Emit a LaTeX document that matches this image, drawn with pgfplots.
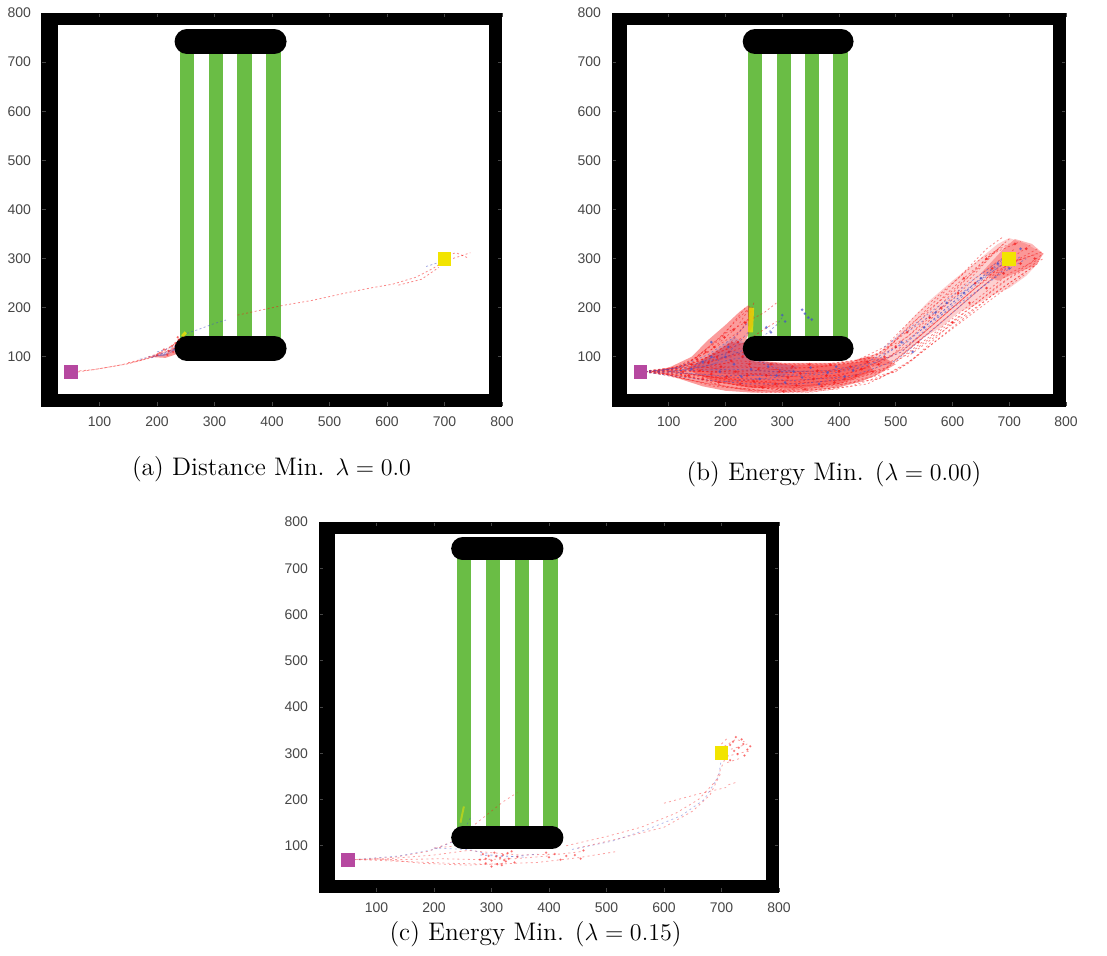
\documentclass[border=0pt]{standalone}
\usepackage{fontspec}
\setsansfont{Liberation Sans}
\usepackage{pgfplots}
\pgfplotsset{compat=1.18}

\definecolor{barGreen}{RGB}{106,189,69}
\definecolor{startMag}{RGB}{182,72,160}
\definecolor{goalYel}{RGB}{242,228,0}
\definecolor{trRed}{RGB}{245,20,20}
\definecolor{trBlue}{RGB}{70,80,200}
\definecolor{tickGray}{RGB}{70,70,70}

\pgfplotsset{
  arena/.style={
    scale only axis,
    xmin=0, xmax=800, ymin=0, ymax=800,
    xtick={100,200,...,800}, ytick={100,200,...,800},
    tick align=inside,
    major tick length=2pt,
    tick style={tickGray, line width=0.4pt},
    axis line style={black, line width=0.5pt},
    axis on top=true,
    ticklabel style={font=\sffamily\fontsize{7}{8}\selectfont, text=tickGray},
    /pgf/number format/assume math mode=true,
    xticklabel style={yshift=-2pt},
    yticklabel style={xshift=-2pt},
  },
  wall/.style={fill=black, draw=none, forget plot},
  bar/.style={fill=barGreen, draw=none, forget plot},
  rtraj/.style={trRed, line width=0.4pt, dash pattern=on 1pt off 1.2pt, opacity=0.5, forget plot},
  btraj/.style={trBlue, line width=0.4pt, dash pattern=on 1pt off 1.2pt, opacity=0.5, forget plot},
  rdots/.style={only marks, mark=*, mark size=0.5pt, trRed, opacity=0.55, forget plot},
  bdots/.style={only marks, mark=*, mark size=0.5pt, trBlue, opacity=0.55, forget plot},
}
\tikzset{capt/.style={anchor=base, font=\fontsize{12.7}{15}\selectfont}}

% walls and doorway bars of the arena
\newcommand{\drawArena}{%
  \addplot[wall] coordinates {(0,0) (800,0) (800,25) (0,25)};
  \addplot[wall] coordinates {(0,775) (800,775) (800,800) (0,800)};
  \addplot[wall] coordinates {(0,0) (27,0) (27,800) (0,800)};
  \addplot[wall] coordinates {(777,0) (800,0) (800,800) (777,800)};
  \addplot[bar] coordinates {(240,117) (265,117) (265,742) (240,742)};
  \addplot[bar] coordinates {(290,117) (315,117) (315,742) (290,742)};
  \addplot[bar] coordinates {(340,117) (365,117) (365,742) (340,742)};
  \addplot[bar] coordinates {(390,117) (415,117) (415,742) (390,742)};
}
% the two rounded blocks: #1 thickness, #2 left and #3 right end of centre line
\newcommand{\drawBlocks}[3]{%
  \addplot[black, line width=#1, line cap=round, forget plot] coordinates {(#2,742) (#3,742)};
  \addplot[black, line width=#1, line cap=round, forget plot] coordinates {(#2,117) (#3,117)};
}
% start and goal squares
\newcommand{\drawStartGoal}{%
  \addplot[only marks, mark=square*, mark size=3.2pt, color=startMag, forget plot] coordinates {(50,70)};
  \addplot[only marks, mark=square*, mark size=3.2pt, color=goalYel, forget plot] coordinates {(700,300)};
}

\begin{document}
\begin{tikzpicture}
\useasboundingbox (0,0) rectangle (553.5pt,477.5pt);

% ---------------- (a) distance minimisation ----------------
\begin{axis}[arena, at={(21pt,274.5pt)}, anchor=south west, width=230pt, height=196.5pt,
  rdots/.append style={mark size=0.4pt, opacity=0.45}]
\drawArena
\addplot[fill=trRed, draw=none, opacity=0.45, forget plot] coordinates {(185,100) (215,106) (238,128) (246,146) (240,108) (215,98)};
\addplot[fill=trBlue, draw=none, opacity=0.45, forget plot] coordinates {(192,101) (222,108) (236,122) (230,112) (212,102)};
\addplot[rtraj] coordinates {(50,70) (90,74) (130,82) (170,92) (205,105) (232,118)};
\addplot[rtraj] coordinates {(55,68) (100,76) (150,86) (195,100) (225,116) (245,140)};
\addplot[rtraj] coordinates {(150,88) (190,100) (215,115) (238,132) (250,145)};
\addplot[rtraj] coordinates {(185,100) (210,110) (230,125) (244,138)};
\addplot[rtraj] coordinates {(340,185) (420,205) (470,215) (520,228) (570,240) (610,248) (650,262) (680,280) (700,295) (730,306) (745,312)};
\addplot[rtraj] coordinates {(620,246) (660,258) (690,282)};
\addplot[rtraj] coordinates {(700,305) (720,312) (740,302)};
\addplot[btraj] coordinates {(170,95) (200,104) (225,113) (240,122)};
\addplot[btraj] coordinates {(190,98) (215,108) (235,118)};
\addplot[btraj] coordinates {(200,110) (228,120) (245,130)};
\addplot[btraj] coordinates {(245,145) (270,155) (300,168) (320,175)};
\addplot[btraj] coordinates {(668,284) (690,292)};
\addplot[rdots] coordinates {(205,108) (212,115) (220,112) (226,122) (232,128) (238,135) (218,104) (228,110) (236,140) (200,104)};
\addplot[goalYel, line width=1.5pt, opacity=0.8, forget plot] coordinates {(244,142) (250,150)};
\drawBlocks{12.3pt}{252}{404}
\drawStartGoal
\end{axis}

% ---------------- (b) energy minimisation, lambda = 0 ----------------
\begin{axis}[arena, at={(306pt,274.5pt)}, anchor=south west, width=227pt, height=196.5pt]
\drawArena
% spread of the sampled trajectories
\addplot[fill=trRed, draw=none, opacity=0.42, forget plot] coordinates {(70,70) (100,78) (140,100) (170,135) (200,165) (225,192) (240,205) (250,195) (248,165) (238,140) (230,120) (235,100) (260,92) (300,88) (350,88) (400,88) (425,92) (450,100) (480,98) (500,85) (470,65) (440,50) (400,38) (350,30) (300,27) (250,27) (200,31) (160,40) (120,55) (90,65)};
\addplot[fill=trRed, draw=none, opacity=0.4, forget plot] coordinates {(130,75) (170,100) (210,130) (232,128) (250,90) (320,84) (400,84) (450,92) (460,70) (400,45) (320,35) (240,38) (180,50)};
\addplot[fill=trRed, draw=none, opacity=0.2, forget plot] coordinates {(430,95) (470,108) (500,140) (530,180) (560,215) (600,255) (640,292) (680,330) (700,342) (730,330) (760,310) (750,290) (730,265) (700,240) (670,225) (640,205) (610,190) (580,160) (550,140) (520,110) (490,85) (460,80)};
\addplot[fill=trRed, draw=none, opacity=0.3, forget plot] coordinates {(650,270) (690,320) (710,340) (740,330) (760,310) (745,285) (710,270) (680,255)};
\addplot[fill=trBlue, draw=none, opacity=0.18, forget plot] coordinates {(140,80) (180,110) (215,140) (232,130) (240,105) (270,90) (330,80) (300,60) (230,62) (170,68)};
\addplot[rtraj] coordinates {(50,70) (120,68) (200,55) (300,40) (400,45) (480,75) (560,150) (640,230) (700,290) (750,310)};
\addplot[rtraj] coordinates {(50,70) (120,72) (200,70) (300,60) (400,62) (470,85) (540,140) (620,220) (690,290) (740,330)};
\addplot[rtraj] coordinates {(50,70) (130,60) (210,45) (300,32) (380,35) (460,60) (540,120) (620,190) (700,260) (760,300)};
\addplot[rtraj] coordinates {(50,70) (120,75) (190,80) (260,78) (350,78) (440,90) (520,140) (600,230) (660,300) (700,340)};
\addplot[rtraj] coordinates {(50,70) (140,65) (220,50) (320,45) (420,55) (500,95) (580,170) (660,250) (720,300)};
\addplot[rtraj] coordinates {(50,70) (130,78) (210,88) (280,84) (380,84) (460,98) (530,160) (600,240) (670,310) (720,335)};
\addplot[rtraj] coordinates {(50,70) (140,58) (230,40) (330,30) (420,40) (500,70) (580,140) (660,210) (730,270)};
\addplot[rtraj] coordinates {(50,70) (150,62) (240,55) (330,50) (430,70) (510,110) (590,190) (670,270) (750,320)};
\addplot[rtraj] coordinates {(60,70) (150,50) (240,32) (350,28) (450,45) (520,85) (600,160) (680,235) (745,285)};
\addplot[rtraj] coordinates {(50,70) (140,72) (220,65) (310,68) (400,72) (490,100) (560,175) (640,260) (710,320)};
\addplot[rtraj] coordinates {(50,70) (110,78) (170,110) (220,160) (240,195)};
\addplot[rtraj] coordinates {(50,70) (120,80) (180,118) (225,152) (245,182)};
\addplot[rtraj] coordinates {(50,70) (110,75) (160,95) (200,122) (232,140)};
\addplot[rtraj] coordinates {(50,70) (120,76) (190,135) (235,200)};
\addplot[rtraj] coordinates {(50,70) (130,78) (180,100) (228,118)};
\addplot[rtraj] coordinates {(60,70) (140,85) (190,110) (232,128) (260,150) (290,172)};
\addplot[rtraj] coordinates {(140,92) (200,148) (238,172) (268,190) (290,210)};
\addplot[rtraj] coordinates {(50,70) (150,60) (250,42) (350,36) (420,50)};
\addplot[rtraj] coordinates {(50,70) (150,70) (250,72) (350,66) (450,78)};
\addplot[rtraj] coordinates {(80,68) (170,45) (260,28) (340,28) (400,35)};
\addplot[rtraj] coordinates {(70,70) (160,88) (210,100) (232,110)};
\addplot[rtraj] coordinates {(80,70) (170,80) (220,92) (300,86) (380,86) (440,95) (480,110) (540,180) (610,260) (660,320) (690,345)};
\addplot[rtraj] coordinates {(80,70) (180,40) (280,30) (380,40) (470,55) (530,95) (600,170) (680,245) (760,310)};
\addplot[rtraj] coordinates {(90,70) (170,100) (210,130) (235,165) (250,210)};
\addplot[rtraj] coordinates {(100,72) (180,58) (270,50) (360,55) (440,65) (490,80)};
\addplot[rtraj] coordinates {(470,100) (530,170) (590,225) (650,285) (690,330)};
\addplot[rtraj] coordinates {(500,90) (570,150) (640,215) (700,270) (755,300)};
\addplot[rtraj] coordinates {(60,70) (120,62) (180,50) (240,40) (300,35)};
\addplot[rtraj] coordinates {(70,70) (130,80) (180,95) (220,105) (240,100)};
\addplot[rtraj] coordinates {(90,72) (150,90) (200,115) (228,135)};
\addplot[rtraj] coordinates {(100,70) (170,60) (230,52) (280,48) (330,40) (380,46)};
\addplot[rtraj] coordinates {(110,72) (170,75) (230,82) (280,75) (330,70) (380,72) (430,82)};
\addplot[rtraj] coordinates {(120,65) (200,40) (260,32)};
\addplot[rtraj] coordinates {(130,75) (190,95) (225,110)};
\addplot[rtraj] coordinates {(150,100) (190,140) (220,175) (238,195)};
\addplot[rtraj] coordinates {(160,80) (220,70) (300,75) (370,80) (420,88) (470,95)};
\addplot[rtraj] coordinates {(200,60) (260,65) (320,60) (380,55) (440,60) (490,75)};
\addplot[rtraj] coordinates {(230,35) (300,45) (370,50) (440,55) (500,70)};
\addplot[rtraj] coordinates {(430,92) (480,120) (540,190) (600,250) (650,300) (700,330)};
\addplot[rtraj] coordinates {(460,85) (520,120) (580,180) (640,240) (700,290) (760,315)};
\addplot[rtraj] coordinates {(520,100) (580,150) (640,200) (700,250) (750,290)};
\addplot[rtraj] coordinates {(480,105) (530,150) (590,210) (640,270) (680,320)};
\addplot[btraj] coordinates {(50,70) (130,72) (210,75) (290,70) (380,72) (460,88) (540,150) (620,230) (690,300)};
\addplot[btraj] coordinates {(50,70) (130,66) (220,58) (320,52) (420,60) (500,92) (570,160) (650,240) (720,305)};
\addplot[btraj] coordinates {(50,70) (110,76) (170,105) (215,140) (240,170)};
\addplot[btraj] coordinates {(60,70) (140,80) (200,100) (235,115) (265,140) (290,165) (300,180)};
\addplot[btraj] coordinates {(50,70) (150,55) (240,45) (330,45) (410,55)};
\addplot[btraj] coordinates {(80,70) (160,90) (210,112) (232,105)};
\addplot[btraj] coordinates {(450,90) (520,130) (590,200) (660,270) (710,310)};
\addplot[btraj] coordinates {(100,70) (190,62) (280,62) (370,68) (450,82) (510,110) (580,185) (650,255) (700,300)};
\addplot[btraj] coordinates {(480,120) (560,190) (640,260) (700,310)};
\addplot[btraj] coordinates {(100,70) (160,80) (210,95) (240,100) (300,72) (350,70)};
\addplot[btraj] coordinates {(120,72) (180,85) (220,125) (240,150)};
\addplot[btraj] coordinates {(200,50) (260,55) (320,62) (380,65) (440,78)};
\addplot[btraj] coordinates {(520,150) (580,200) (640,250) (690,290)};
\addplot[btraj] coordinates {(560,170) (620,215) (680,265) (730,300)};
\addplot[rdots] coordinates {(125,70) (135,62) (140,85) (150,95) (155,72) (160,55) (165,110) (170,88) (175,65) (180,120) (185,100) (188,48) (192,80) (198,140) (202,60) (206,110) (210,92) (214,155) (218,70) (222,130) (226,45) (230,100) (234,170) (238,62) (242,85)
  (250,50) (258,75) (265,38) (272,62) (280,85) (288,45) (295,70) (302,30) (310,58) (318,80) (325,42) (332,66) (340,34) (348,85) (355,55) (362,72) (370,40) (378,62) (385,84) (392,48) (400,70) (410,55) (420,80) (430,62) (440,75) (450,90) (460,70) (470,85)
  (480,100) (500,120) (520,150) (540,130) (560,180) (580,200) (600,170) (610,230) (630,210) (640,250) (660,240) (670,280) (690,270) (700,310) (720,290) (730,320) (745,300) (710,330) (660,300) (620,260)};
\addplot[bdots] coordinates {(335,196) (340,188) (346,180) (352,176) (300,185) (305,172) (272,160) (280,150)
  (140,75) (160,90) (175,100) (190,70) (205,120) (215,85) (228,60) (245,75) (260,55) (275,80) (290,62) (305,48) (320,70) (335,58) (350,78) (365,45) (380,68) (395,80) (410,60) (425,72) (175,130) (200,100)
  (510,130) (550,160) (590,210) (620,230) (650,260) (680,290) (700,280) (720,320) (570,190) (530,110)};
\addplot[goalYel, line width=2.5pt, opacity=0.75, forget plot] coordinates {(244,150) (246,200)};
\drawBlocks{12.3pt}{252}{404}
\drawStartGoal
\end{axis}

% ---------------- (c) energy minimisation, lambda = 0.15 ----------------
\begin{axis}[arena, at={(159.5pt,31.5pt)}, anchor=south west, width=230pt, height=185pt,
  rtraj/.append style={opacity=0.4, dash pattern=on 1pt off 1.6pt},
  btraj/.append style={opacity=0.4, dash pattern=on 1pt off 1.6pt},
  rdots/.append style={mark size=0.4pt, opacity=0.4}]
\drawArena
\addplot[rtraj] coordinates {(55,70) (120,72) (200,80) (260,90) (300,85) (350,80) (420,82) (460,88)};
\addplot[rtraj] coordinates {(60,70) (130,75) (190,88) (230,108) (260,135) (290,165) (320,195) (345,215)};
\addplot[rtraj] coordinates {(70,70) (150,66) (230,62) (300,60) (380,64) (450,74) (520,88)};
\addplot[rtraj] coordinates {(60,70) (140,70) (210,72) (280,70) (340,72) (400,78)};
\addplot[rtraj] coordinates {(100,72) (180,62) (260,58) (320,62)};
\addplot[rtraj] coordinates {(430,100) (500,120) (560,140) (620,170) (660,200) (690,240) (700,270) (710,300)};
\addplot[rtraj] coordinates {(450,95) (520,115) (600,140) (650,175) (680,210) (700,260)};
\addplot[rtraj] coordinates {(600,192) (660,212) (708,226)};
\addplot[rtraj] coordinates {(712,232) (728,238)};
\addplot[rtraj] coordinates {(240,110) (260,125) (280,140)};
\addplot[rtraj] coordinates {(200,95) (240,100) (270,95)};
\addplot[rtraj] coordinates {(690,300) (720,310) (745,320)};
\addplot[rtraj] coordinates {(700,290) (730,300) (750,305)};
\addplot[rtraj] coordinates {(705,315) (725,330) (740,325)};
\addplot[rtraj] coordinates {(710,280) (735,290)};
\addplot[rtraj] coordinates {(700,320) (712,335)};
\addplot[btraj] coordinates {(60,70) (140,78) (200,92) (240,112) (255,140) (265,165)};
\addplot[btraj] coordinates {(200,95) (260,92) (300,80) (360,75)};
\addplot[btraj] coordinates {(440,92) (510,110) (570,135) (630,165) (670,200) (695,250) (700,290)};
\addplot[btraj] coordinates {(280,80) (330,76) (380,82)};
\addplot[rdots] coordinates {(280,70) (290,62) (295,78) (300,68) (305,85) (310,60) (315,74) (320,80) (325,66) (330,72) (335,88) (340,64) (300,55) (285,82) (318,58) (328,84) (345,76) (290,72) (308,77) (322,69) (400,75) (410,82) (420,70) (395,85) (430,78) (445,80) (455,72) (460,90)};
\addplot[rdots] coordinates {(705,310) (715,318) (722,305) (730,312) (738,320) (745,308) (720,325) (710,295) (728,298) (740,295) (735,330) (750,315) (715,285) (725,335)};
\addplot[goalYel, line width=1pt, opacity=0.5, forget plot] coordinates {(246,150) (252,185)};
\drawBlocks{11.56pt}{250}{405}
\drawStartGoal
\end{axis}

% sub-figure captions
\node[capt] at (135.75pt,240pt) {(a) Distance Min. $\lambda = 0.0$};
\node[capt] at (417pt,237.5pt) {(b) Energy Min. ($\lambda = 0.00$)};
\node[capt] at (267.75pt,7.2pt) {(c) Energy Min. ($\lambda = 0.15$)};
\end{tikzpicture}
\end{document}
